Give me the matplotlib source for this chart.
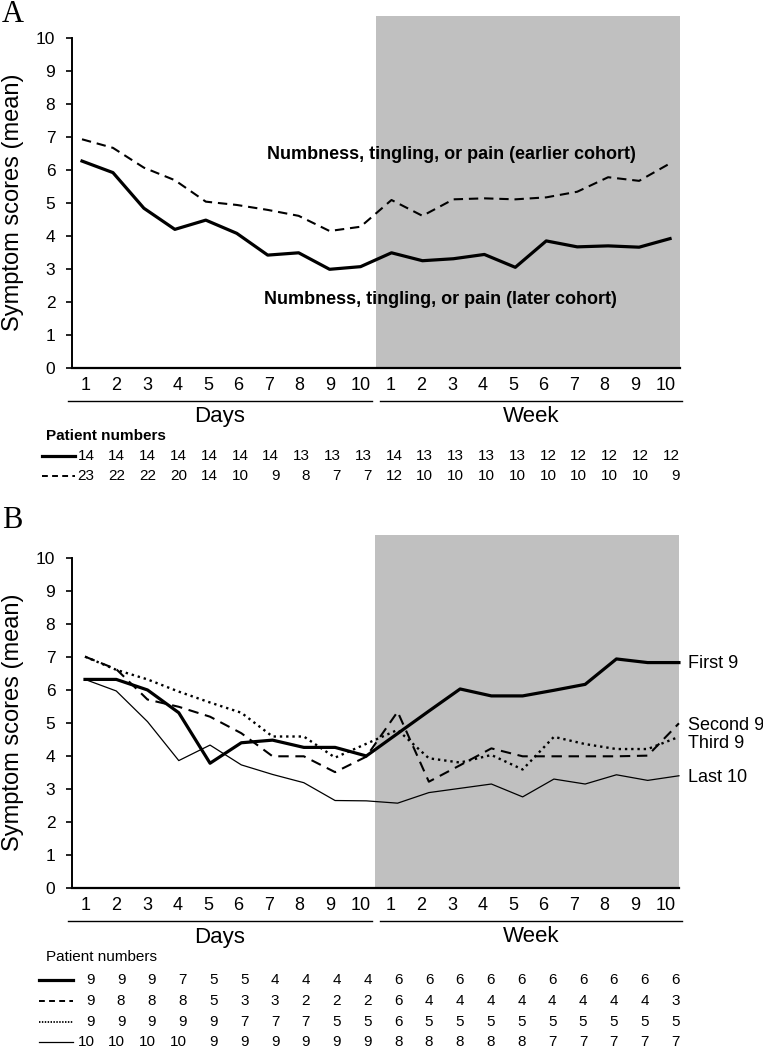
import matplotlib
matplotlib.use('Agg')
import matplotlib.pyplot as plt
from matplotlib.lines import Line2D
import numpy as np

plt.rcParams['font.family'] = ['Liberation Sans', 'DejaVu Sans']

# ---------------- data ----------------
tick_labels = [str(i) for i in range(1, 11)] + [str(i) for i in range(1, 11)]

a_later = [6.28, 5.93, 4.85, 4.21, 4.49, 4.09, 3.43, 3.50, 3.00, 3.08,
           3.50, 3.26, 3.32, 3.45, 3.06, 3.86, 3.68, 3.71, 3.67, 3.93]
a_earlier = [6.94, 6.68, 6.08, 5.70, 5.05, 4.95, 4.80, 4.62, 4.16, 4.29,
             5.10, 4.62, 5.12, 5.15, 5.12, 5.18, 5.35, 5.79, 5.68, 6.21]
a_n_later = [14, 14, 14, 14, 14, 14, 14, 13, 13, 13, 14, 13, 13, 13, 13, 12, 12, 12, 12, 12]
a_n_earlier = [23, 22, 22, 20, 14, 10, 9, 8, 7, 7, 12, 10, 10, 10, 10, 10, 10, 10, 10, 9]

b_first9 = [6.33, 6.33, 6.01, 5.32, 3.79, 4.41, 4.49, 4.27, 4.27, 4.01,
            4.69, 5.37, 6.04, 5.83, 5.83, 6.00, 6.18, 6.95, 6.84, 6.84]
b_second9 = [7.02, 6.64, 5.72, 5.50, 5.20, 4.70, 4.00, 4.00, 3.52, 3.99,
             5.35, 3.23, 3.73, 4.24, 4.00, 4.00, 4.00, 4.00, 4.02, 5.00]
b_third9 = [7.02, 6.62, 6.33, 5.96, 5.63, 5.32, 4.60, 4.60, 3.96, 4.38,
            4.80, 3.94, 3.81, 4.04, 3.60, 4.59, 4.37, 4.22, 4.22, 4.59]
b_last10 = [6.33, 5.98, 5.05, 3.87, 4.34, 3.74, 3.45, 3.20, 2.66, 2.65,
            2.58, 2.90, 3.03, 3.16, 2.77, 3.31, 3.16, 3.44, 3.27, 3.41]
b_n_first9 = [9, 9, 9, 7, 5, 5, 4, 4, 4, 4, 6, 6, 6, 6, 6, 6, 6, 6, 6, 6]
b_n_second9 = [9, 8, 8, 8, 5, 3, 3, 2, 2, 2, 6, 4, 4, 4, 4, 4, 4, 4, 4, 3]
b_n_third9 = [9, 9, 9, 9, 9, 7, 7, 7, 5, 5, 6, 5, 5, 5, 5, 5, 5, 5, 5, 5]
b_n_last10 = [10, 10, 10, 10, 9, 9, 9, 9, 9, 9, 8, 8, 8, 8, 8, 7, 7, 7, 7, 7]

group_labels = ['Days', 'Week']

# ---------------- layout helpers ----------------
W, H = 763, 1050
fig = plt.figure(figsize=(W / 100, H / 100), dpi=100)
fig.patch.set_facecolor('white')


def fx(p):
    return p / W


def fy(p):
    return 1 - p / H


SHADE = '#c0c0c0'
x = np.arange(len(tick_labels))


def make_panel(left, right, top, zero, unit, first, step, shade_px):
    ax = fig.add_axes([fx(left), fy(zero), (right - left) / W, (zero - top) / H])
    ax.set_ylim(0, (zero - top) / unit)
    ax.set_xlim((left - first) / step, (right - first) / step)
    ax.axvspan((shade_px - first) / step, (right - first) / step,
               facecolor=SHADE, lw=0, zorder=0)
    for s in ('top', 'right'):
        ax.spines[s].set_visible(False)
    ax.spines['left'].set_bounds(0, 10)
    ax.spines['left'].set_linewidth(1.4)
    ax.spines['bottom'].set_linewidth(1.6)
    ax.set_yticks(range(11))
    ax.tick_params(axis='y', direction='out', length=4.5, width=1.2, pad=7.5,
                   labelsize=12.5)
    ticks = [(86 + 30.5 * i - first) / step for i in range(len(tick_labels))]
    ax.set_xticks(ticks, tick_labels)
    ax.tick_params(axis='x', length=0, pad=6, labelsize=13)
    ax.set_facecolor('none')
    return ax


def group_axis(y_line, y_text):
    fig.add_artist(Line2D([fx(68), fx(372)], [fy(y_line)] * 2, color='black', lw=1.0))
    fig.add_artist(Line2D([fx(380), fx(682)], [fy(y_line)] * 2, color='black', lw=1.0))
    fig.text(fx(220), fy(y_text), group_labels[0], fontsize=16, ha='center', va='center')
    fig.text(fx(531), fy(y_text), group_labels[1], fontsize=16, ha='center', va='center')


def number_row(y, values, x0, x1, **lkw):
    fig.add_artist(Line2D([fx(x0), fx(x1)], [fy(y)] * 2, color='black', **lkw))
    for i, v in enumerate(values):
        fig.text(fx(94.5 + 30.8 * i), fy(y), str(v), fontsize=11, ha='right', va='center')


# ---------------- Panel A ----------------
axA = make_panel(72, 680, 16, 368.3, 33, 82, 30.95, 376)
axA.plot(x, a_earlier, color='black', lw=1.5, ls=(0, (4.5, 2.8)), clip_on=False, zorder=3)
axA.plot(x, a_later, color='black', lw=2.3, ls='-', clip_on=False, zorder=3)

fig.text(fx(2), fy(22), 'A', family=['Liberation Serif', 'DejaVu Serif'], fontsize=22,
         ha='left', va='baseline')
fig.text(fx(13), fy(202), 'Symptom scores (mean)', fontsize=17, rotation=90,
         ha='center', va='center')
fig.text(fx(451), fy(154), 'Numbness, tingling, or pain (earlier cohort)',
         fontsize=13, fontweight='bold', ha='center', va='center')
fig.text(fx(440), fy(300), 'Numbness, tingling, or pain (later cohort)',
         fontsize=13, fontweight='bold', ha='center', va='center')

group_axis(400.7, 416.5)
fig.text(fx(46), fy(436), 'Patient numbers', fontsize=11, fontweight='bold',
         ha='left', va='center')
number_row(456, a_n_later, 42, 75, lw=2.3)
number_row(476, a_n_earlier, 42, 75, lw=1.4, ls=(0, (3.0, 2.2)))

# ---------------- Panel B ----------------
axB = make_panel(72, 679, 535, 888.3, 33, 85, 31.26, 375)
axB.plot(x, b_last10, color='black', lw=0.9, ls='-', clip_on=False, zorder=3)
axB.plot(x, b_third9, color='black', lw=1.7, ls=':', clip_on=False, zorder=3)
axB.plot(x, b_second9, color='black', lw=1.5, ls=(0, (5.0, 3.2)), clip_on=False, zorder=3)
axB.plot(x, b_first9, color='black', lw=2.3, ls='-', clip_on=False, zorder=4)

fig.text(fx(2), fy(528), 'B', family=['Liberation Serif', 'DejaVu Serif'], fontsize=22,
         ha='left', va='baseline')
fig.text(fx(13), fy(722), 'Symptom scores (mean)', fontsize=17, rotation=90,
         ha='center', va='center')
series_names = ['First 9', 'Second 9', 'Third 9', 'Last 10']
for name, yy in zip(series_names, [664, 725, 744, 778]):
    fig.text(fx(688), fy(yy), name, fontsize=13, ha='left', va='center')

group_axis(921, 937)
fig.text(fx(46), fy(957), 'Patient numbers', fontsize=11, ha='left', va='center')
number_row(980, b_n_first9, 39, 73, lw=2.3)
number_row(1001, b_n_second9, 39, 73, lw=1.4, ls=(0, (3.0, 2.2)))
number_row(1022, b_n_third9, 39, 73, lw=1.3, ls=(0, (0.8, 0.8)))
number_row(1042, b_n_last10, 39, 73, lw=0.9)

fig.savefig('out.png', dpi=100, facecolor='white')
